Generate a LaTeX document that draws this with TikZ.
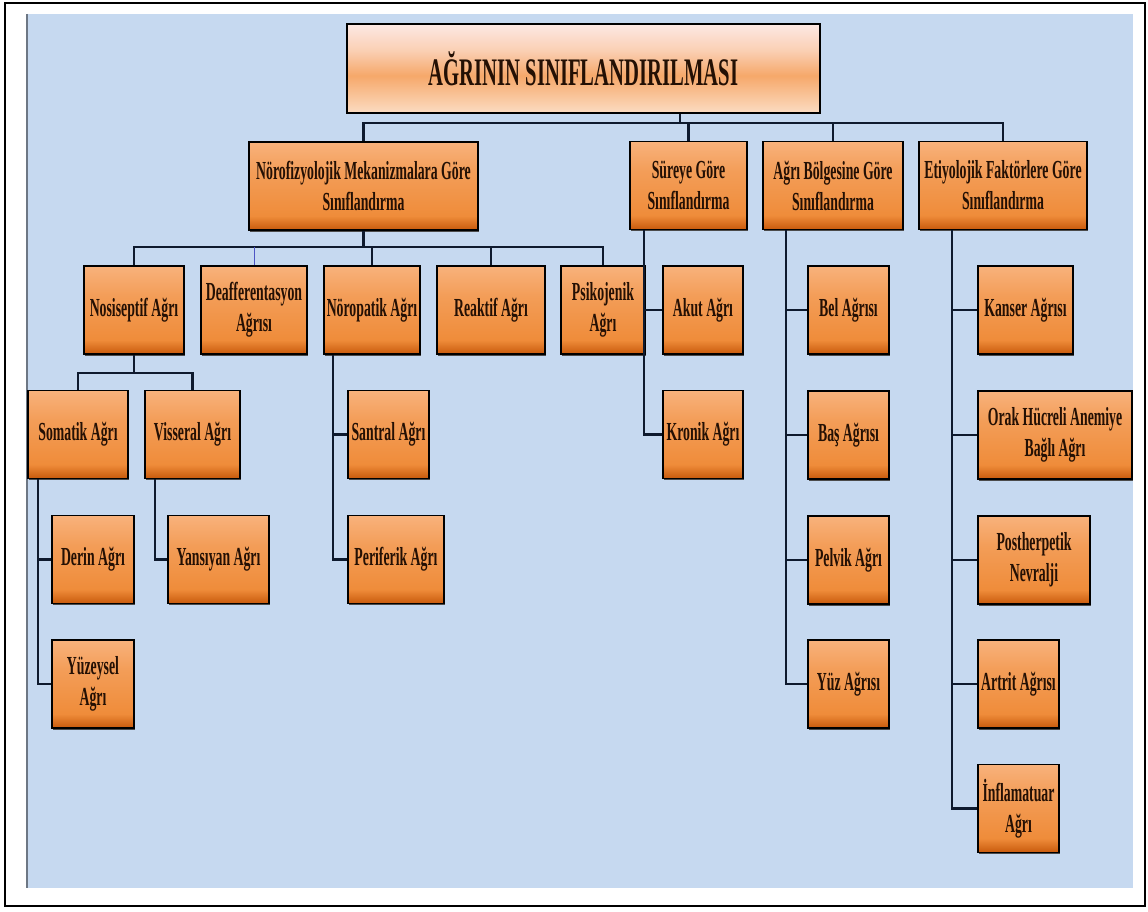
\documentclass[tikz,border=0pt]{standalone}
\usepackage{fontspec}
\usetikzlibrary{shadows}
\newfontfamily\kutufont{Liberation Serif}[FakeStretch=0.53]
\definecolor{zemin}{HTML}{C6D9F0}
\definecolor{acik}{HTML}{F8B27C}
\definecolor{orta}{HTML}{EF8C3A}
\definecolor{koyu}{HTML}{C85A0C}
\definecolor{baslikust}{HTML}{FDE9E4}
\definecolor{baslikorta}{HTML}{F6A86A}
\definecolor{baslikalt}{HTML}{FBDCC2}
\definecolor{cizgi}{HTML}{0E1A2E}
\definecolor{yazi}{HTML}{241004}
\pgfdeclareverticalshading{kutushade}{100bp}{color(0bp)=(koyu); color(25bp)=(koyu); color(33bp)=(orta); color(58bp)=(orta!55!acik); color(75bp)=(acik); color(100bp)=(acik)}
\pgfdeclareverticalshading{baslikshade}{100bp}{color(0bp)=(baslikalt); color(25bp)=(baslikalt); color(46bp)=(baslikorta); color(60bp)=(baslikust!60!baslikorta); color(75bp)=(baslikust); color(100bp)=(baslikust)}
\begin{document}
\begin{tikzpicture}[x=1pt,y=-1pt,
    kutu/.style={draw=black,line width=1.8pt,shading=kutushade,minimum height=88,inner sep=0pt,align=center,text=yazi,
        font=\kutufont\bfseries\fontsize{26}{31}\selectfont,drop shadow={shadow xshift=1pt,shadow yshift=-1.5pt,fill=black!70,opacity=1}},
    baslik/.style={draw=black,line width=2pt,shading=baslikshade,minimum width=473,minimum height=89,inner sep=0pt,text=yazi,
        font=\kutufont\bfseries\fontsize{39}{44}\selectfont,drop shadow={shadow xshift=1pt,shadow yshift=-1.5pt,fill=black!70,opacity=1}},
    link/.style={draw=cizgi,line width=2.2pt}]
\useasboundingbox (0,0) rectangle (1148,912);
\draw[line width=1.5pt,fill=white] (5,3) rectangle (1145,906);
\fill[zemin] (27,14) rectangle (1133,888);
\draw[line width=1.5pt,draw=black!45!zemin] (27,14) -- (27,888);
% ana baslik ve ilk seviye
\node[baslik] (title) at (583.5,68.5) {AĞRININ SINIFLANDIRILMASI};
\node[kutu,minimum width=229] (noro) at (363.5,186) {Nörofizyolojik Mekanizmalara Göre\\Sınıflandırma};
\node[kutu,minimum width=117] (sure) at (688.5,185.5) {Süreye Göre\\Sınıflandırma};
\node[kutu,minimum width=140] (bolge) at (833,185.5) {Ağrı Bölgesine Göre\\Sınıflandırma};
\node[kutu,minimum width=168] (etiyo) at (1003,185.5) {Etiyolojik Faktörlere Göre\\Sınıflandırma};
% norofizyolojik dal
\node[kutu,minimum width=100] (nosi) at (134,310) {Nosiseptif Ağrı};
\node[kutu,minimum width=106] (deaff) at (254,310) {Deafferentasyon\\Ağrısı};
\node[kutu,minimum width=96] (noropatik) at (372,310) {Nöropatik Ağrı};
\node[kutu,minimum width=108] (reaktif) at (491,310) {Reaktif Ağrı};
\node[kutu,minimum width=84] (psiko) at (603,310) {Psikojenik\\Ağrı};
\node[kutu,minimum width=100] (somatik) at (78,434.5) {Somatik Ağrı};
\node[kutu,minimum width=95] (visseral) at (192.5,434.5) {Visseral Ağrı};
\node[kutu,minimum width=82] (derin) at (93,559.5) {Derin Ağrı};
\node[kutu,minimum width=82] (yuzeysel) at (93,684) {Yüzeysel\\Ağrı};
\node[kutu,minimum width=101] (yansiyan) at (218.5,559.5) {Yansıyan Ağrı};
\node[kutu,minimum width=81] (santral) at (388.5,434.5) {Santral Ağrı};
\node[kutu,minimum width=96] (periferik) at (396,559.5) {Periferik Ağrı};
% sureye gore
\node[kutu,minimum width=80] (akut) at (703,310) {Akut Ağrı};
\node[kutu,minimum width=80] (kronik) at (703,434.5) {Kronik Ağrı};
% bolgeye gore
\node[kutu,minimum width=81] (bel) at (848.5,310) {Bel Ağrısı};
\node[kutu,minimum width=81] (bas) at (848.5,435) {Baş Ağrısı};
\node[kutu,minimum width=81] (pelvik) at (848.5,560) {Pelvik Ağrı};
\node[kutu,minimum width=81] (yuz) at (848.5,684) {Yüz Ağrısı};
% etiyolojik
\node[kutu,minimum width=95] (kanser) at (1025.5,310) {Kanser Ağrısı};
\node[kutu,minimum width=154] (orak) at (1055,435) {Orak Hücreli Anemiye\\Bağlı Ağrı};
\node[kutu,minimum width=112] (post) at (1034,560) {Postherpetik\\Nevralji};
\node[kutu,minimum width=81] (artrit) at (1018.5,684) {Artrit Ağrısı};
\node[kutu,minimum width=81] (inflam) at (1018.5,808.5) {İnflamatuar\\Ağrı};
% baglantilar
\coordinate (bus1) at (680,123);
\coordinate (bus2) at (363.5,247);
\coordinate (bus3) at (134,373);
\draw[link] (title.south -| bus1) -- (bus1);
\draw[link] (noro.north) |- (bus1) -| (etiyo.north);
\draw[link] (sure.north) -- (sure.north |- bus1);
\draw[link] (bolge.north) -- (bolge.north |- bus1);
\draw[link] (noro.south) -- (bus2);
\draw[link] (nosi.north) |- (bus2) -| (psiko.north);
\draw[line width=1pt,draw=black!35!zemin!60!blue] (deaff.north) -- (deaff.north |- bus2);
\draw[link] (noropatik.north) -- (noropatik.north |- bus2);
\draw[link] (reaktif.north) -- (reaktif.north |- bus2);
\draw[link] (nosi.south) -- (bus3);
\draw[link] (somatik.north) |- (bus3) -| (visseral.north);
\coordinate (tsom) at (38,0);
\coordinate (tvis) at (155,0);
\coordinate (tnrp) at (333,0);
\coordinate (tsur) at (644,0);
\coordinate (tbol) at (786,0);
\coordinate (teti) at (952,0);
\draw[link] (somatik.south -| tsom) |- (yuzeysel.west);
\draw[link] (tsom |- derin.west) -- (derin.west);
\draw[link] (visseral.south -| tvis) |- (yansiyan.west);
\draw[link] (noropatik.south -| tnrp) |- (periferik.west);
\draw[link] (tnrp |- santral.west) -- (santral.west);
\draw[link] (sure.south -| tsur) |- (kronik.west);
\draw[link] (tsur |- akut.west) -- (akut.west);
\draw[link] (bolge.south -| tbol) |- (yuz.west);
\draw[link] (tbol |- bel.west) -- (bel.west);
\draw[link] (tbol |- bas.west) -- (bas.west);
\draw[link] (tbol |- pelvik.west) -- (pelvik.west);
\draw[link] (etiyo.south -| teti) |- (inflam.west);
\draw[link] (teti |- kanser.west) -- (kanser.west);
\draw[link] (teti |- orak.west) -- (orak.west);
\draw[link] (teti |- post.west) -- (post.west);
\draw[link] (teti |- artrit.west) -- (artrit.west);
\end{tikzpicture}
\end{document}
